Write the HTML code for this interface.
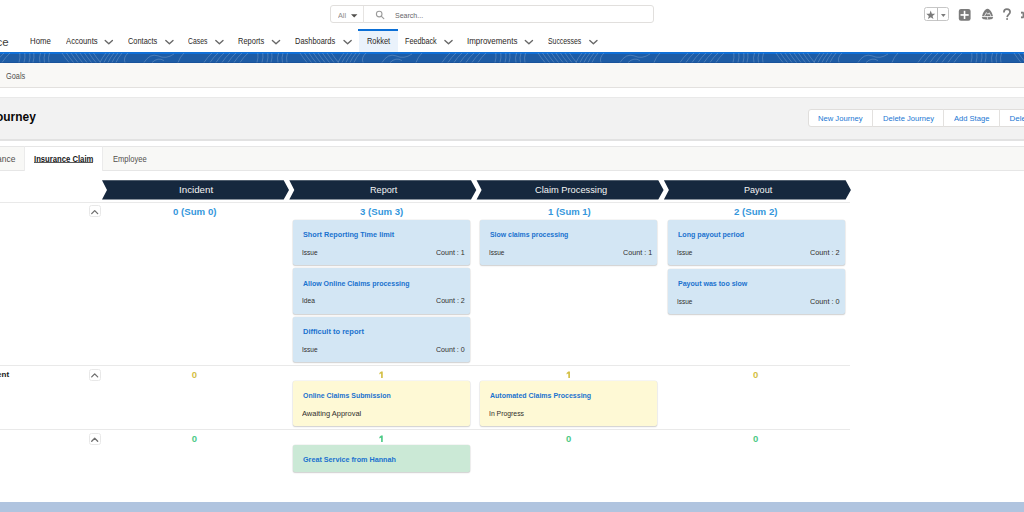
<!DOCTYPE html>
<html><head><meta charset="utf-8">
<style>
html,body{margin:0;padding:0;}
body{width:1024px;height:512px;overflow:hidden;position:relative;background:#fff;font-family:"Liberation Sans",sans-serif;}
.a{position:absolute;}
.t{position:absolute;transform-origin:0 0;}
.card{position:absolute;width:177px;border-radius:2px;box-shadow:0 0 0 0.6px rgba(0,0,0,0.07),0 1px 1.5px rgba(0,0,0,0.16);}
.upb{position:absolute;left:88.8px;width:11.8px;height:11.9px;border:1px solid #e8e8e8;border-radius:2.5px;background:#fff;box-sizing:border-box;}
.hl{position:absolute;left:0;width:850px;height:1px;background:#e9e9e9;}
</style></head>
<body>
<!-- search box -->
<div class="a" style="left:330.3px;top:4.7px;width:324.2px;height:18.8px;border:1px solid #e1dfdd;border-radius:3px;box-sizing:border-box;background:#fff"></div>
<div class="a" style="left:363px;top:5.5px;width:1px;height:17.4px;background:#e6e4e2"></div>
<svg class="a" style="left:0;top:0" width="1024" height="512" viewBox="0 0 1024 512">
  <!-- All dropdown triangle -->
  <polygon points="351,14.2 357.4,14.2 354.2,17.6" fill="#514f4d"/>
  <!-- search magnifier -->
  <circle cx="379.2" cy="14.1" r="2.8" fill="none" stroke="#9b9b9b" stroke-width="1.1"/>
  <line x1="381.2" y1="16.1" x2="383.8" y2="18.6" stroke="#9b9b9b" stroke-width="1.2" stroke-linecap="round"/>
  <!-- nav chevrons -->
  <g fill="none" stroke="#676767" stroke-width="1.35" stroke-linecap="round" stroke-linejoin="round">
    <polyline points="105.2,40.4 108.8,43.8 112.4,40.4"/>
    <polyline points="165.8,40.4 169.4,43.8 173.0,40.4"/>
    <polyline points="215.8,40.4 219.4,43.8 223.0,40.4"/>
    <polyline points="272.4,40.4 276.0,43.8 279.6,40.4"/>
    <polyline points="344.0,40.4 347.6,43.8 351.2,40.4"/>
    <polyline points="444.9,40.4 448.5,43.8 452.1,40.4"/>
    <polyline points="525.3,40.4 528.9,43.8 532.5,40.4"/>
    <polyline points="589.8,40.4 593.4,43.8 597.0,40.4"/>
  </g>
</svg>
<!-- right header icons -->
<div class="a" style="left:923.6px;top:7.3px;width:25.1px;height:14.2px;border:1px solid #c6c6c6;border-radius:2.5px;box-sizing:border-box;background:#fff"></div>
<div class="a" style="left:937.3px;top:8.2px;width:1.1px;height:12.4px;background:#bdbdbd"></div>
<svg class="a" style="left:0;top:0" width="1024" height="30" viewBox="0 0 1024 30">
  <polygon points="930.70,10.60 931.85,13.72 935.17,13.85 932.55,15.90 933.46,19.10 930.70,17.25 927.94,19.10 928.85,15.90 926.23,13.85 929.55,13.72" fill="#7b7b7b"/>
  <polygon points="941,14.1 945.7,14.1 943.35,17.1" fill="#7b7b7b"/>
  <rect x="958.8" y="8.9" width="11.8" height="11.8" rx="2.2" fill="#7b7b7b"/>
  <rect x="963.75" y="10.8" width="1.6" height="8.2" fill="#fff"/>
  <rect x="960.5" y="14.1" width="8.2" height="1.7" fill="#fff"/>
  <path d="M981.9,17.6 C981.9,14.5 984.6,8.7 987.5,8.7 C990.4,8.7 993.1,14.5 993.1,17.6 C993.1,19.2 990.5,19.7 987.5,19.7 C984.5,19.7 981.9,19.2 981.9,17.6 Z" fill="#7b7b7b"/>
  <line x1="981" y1="16.6" x2="994" y2="16.6" stroke="#fff" stroke-width="0.9"/>
  <path d="M984.6,15.9 L986.4,12.6 L987.8,14.3 L989.3,12.9 L990.8,15.9" fill="none" stroke="#fff" stroke-width="0.8"/>
  <line x1="987.2" y1="16.5" x2="987.8" y2="19.8" stroke="#fff" stroke-width="0.7"/>
  <path d="M1003.9,12.4 C1003.9,9.9 1005.5,9.1 1006.9,9.1 C1008.6,9.1 1010.1,10.2 1010.1,12.1 C1010.1,14.1 1007.3,14.6 1007.1,17.1" fill="none" stroke="#7b7b7b" stroke-width="1.7"/>
  <rect x="1006.2" y="18.2" width="1.8" height="1.6" fill="#7b7b7b"/>
  <g fill="#7b7b7b">
    <circle cx="1027.2" cy="15" r="4.6"/>
    <rect x="1021" y="11.7" width="2.4" height="1.9"/>
    <rect x="1021" y="16.4" width="2.4" height="1.9"/>
    <rect x="1022.8" y="12.6" width="2" height="4.8"/>
  </g>
  <circle cx="1027.2" cy="15" r="1.8" fill="#fff"/>
</svg>
<!-- Rokket active tab -->
<div class="a" style="left:358.5px;top:31.3px;width:39px;height:20.7px;background:#eaf2fb"></div>
<div class="a" style="left:358px;top:29.3px;width:39.6px;height:2px;background:#0b6fd6"></div>
<!-- blue banner -->
<div class="a" style="left:0;top:51.8px;width:1024px;height:11.4px;background:#1e5ca5"></div>
<div class="a" style="left:0;top:51.8px;width:1024px;height:1.8px;background:#0f6fd7"></div>
<div class="a" style="left:0;top:62.2px;width:1024px;height:1px;background:#1a539b"></div>
<svg class="a" style="left:0;top:53.3px" width="1024" height="9.5" viewBox="0 0 1024 10" preserveAspectRatio="none">
  <path d="M-198.0,10 Q-199.2,5 -197.5,0 M-193.5,10 Q-194.7,5 -193.0,0 M-189.0,10 Q-190.2,5 -188.5,0 M-176.0,0 Q-173.0,5 -169.0,10 M-171.5,0 Q-168.5,5 -164.5,10 M-167.0,0 Q-164.0,5 -160.0,10 M-162.5,0 Q-159.5,5 -155.5,10 M-158.0,0 Q-155.0,5 -151.0,10 M-153.5,0 Q-150.5,5 -146.5,10 M-149.0,0 Q-146.0,5 -142.0,10 M-144.5,0 Q-141.5,5 -137.5,10 M-132.0,0 Q-136.0,5 -138.0,10 M-128.0,0 Q-132.0,5 -134.0,10 M-124.0,0 Q-128.0,5 -130.0,10 M-120.0,0 Q-124.0,5 -126.0,10 M-116.0,0 Q-120.0,5 -122.0,10 M-110.0,0 Q-115.0,5 -113.0,10 M-94.0,10 Q-88.0,0 -80.0,3 Q-72.0,7 -64.0,1 M-86.0,10 Q-80.0,4 -74.0,8 M-60.0,10 Q-58.0,4 -54.0,0 M-26.0,0 Q-31.0,5 -34.0,10 M-20.0,0 Q-25.0,5 -28.0,10 M-14.0,0 Q-19.0,5 -22.0,10 M-8.0,0 Q-13.0,5 -16.0,10 M-2.0,0 Q-7.0,5 -10.0,10 M4.0,0 Q-1.0,5 -4.0,10 M10.0,0 Q5.0,5 2.0,10 M19.0,10 Q20.5,5 19.8,0 M24.0,10 Q25.5,5 24.8,0 M29.0,10 Q30.5,5 29.8,0 M33.0,10 Q34.5,5 33.8,0 M40.0,10 Q38.8,5 40.5,0 M44.5,10 Q43.3,5 45.0,0 M49.0,10 Q47.8,5 49.5,0 M62.0,0 Q65.0,5 69.0,10 M66.5,0 Q69.5,5 73.5,10 M71.0,0 Q74.0,5 78.0,10 M75.5,0 Q78.5,5 82.5,10 M80.0,0 Q83.0,5 87.0,10 M84.5,0 Q87.5,5 91.5,10 M89.0,0 Q92.0,5 96.0,10 M93.5,0 Q96.5,5 100.5,10 M106.0,0 Q102.0,5 100.0,10 M110.0,0 Q106.0,5 104.0,10 M114.0,0 Q110.0,5 108.0,10 M118.0,0 Q114.0,5 112.0,10 M122.0,0 Q118.0,5 116.0,10 M128.0,0 Q123.0,5 125.0,10 M144.0,10 Q150.0,0 158.0,3 Q166.0,7 174.0,1 M152.0,10 Q158.0,4 164.0,8 M178.0,10 Q180.0,4 184.0,0 M212.0,0 Q207.0,5 204.0,10 M218.0,0 Q213.0,5 210.0,10 M224.0,0 Q219.0,5 216.0,10 M230.0,0 Q225.0,5 222.0,10 M236.0,0 Q231.0,5 228.0,10 M242.0,0 Q237.0,5 234.0,10 M248.0,0 Q243.0,5 240.0,10 M257.0,10 Q258.5,5 257.8,0 M262.0,10 Q263.5,5 262.8,0 M267.0,10 Q268.5,5 267.8,0 M271.0,10 Q272.5,5 271.8,0 M278.0,10 Q276.8,5 278.5,0 M282.5,10 Q281.3,5 283.0,0 M287.0,10 Q285.8,5 287.5,0 M300.0,0 Q303.0,5 307.0,10 M304.5,0 Q307.5,5 311.5,10 M309.0,0 Q312.0,5 316.0,10 M313.5,0 Q316.5,5 320.5,10 M318.0,0 Q321.0,5 325.0,10 M322.5,0 Q325.5,5 329.5,10 M327.0,0 Q330.0,5 334.0,10 M331.5,0 Q334.5,5 338.5,10 M344.0,0 Q340.0,5 338.0,10 M348.0,0 Q344.0,5 342.0,10 M352.0,0 Q348.0,5 346.0,10 M356.0,0 Q352.0,5 350.0,10 M360.0,0 Q356.0,5 354.0,10 M366.0,0 Q361.0,5 363.0,10 M382.0,10 Q388.0,0 396.0,3 Q404.0,7 412.0,1 M390.0,10 Q396.0,4 402.0,8 M416.0,10 Q418.0,4 422.0,0 M450.0,0 Q445.0,5 442.0,10 M456.0,0 Q451.0,5 448.0,10 M462.0,0 Q457.0,5 454.0,10 M468.0,0 Q463.0,5 460.0,10 M474.0,0 Q469.0,5 466.0,10 M480.0,0 Q475.0,5 472.0,10 M486.0,0 Q481.0,5 478.0,10 M495.0,10 Q496.5,5 495.8,0 M500.0,10 Q501.5,5 500.8,0 M505.0,10 Q506.5,5 505.8,0 M509.0,10 Q510.5,5 509.8,0 M516.0,10 Q514.8,5 516.5,0 M520.5,10 Q519.3,5 521.0,0 M525.0,10 Q523.8,5 525.5,0 M538.0,0 Q541.0,5 545.0,10 M542.5,0 Q545.5,5 549.5,10 M547.0,0 Q550.0,5 554.0,10 M551.5,0 Q554.5,5 558.5,10 M556.0,0 Q559.0,5 563.0,10 M560.5,0 Q563.5,5 567.5,10 M565.0,0 Q568.0,5 572.0,10 M569.5,0 Q572.5,5 576.5,10 M582.0,0 Q578.0,5 576.0,10 M586.0,0 Q582.0,5 580.0,10 M590.0,0 Q586.0,5 584.0,10 M594.0,0 Q590.0,5 588.0,10 M598.0,0 Q594.0,5 592.0,10 M604.0,0 Q599.0,5 601.0,10 M620.0,10 Q626.0,0 634.0,3 Q642.0,7 650.0,1 M628.0,10 Q634.0,4 640.0,8 M654.0,10 Q656.0,4 660.0,0 M688.0,0 Q683.0,5 680.0,10 M694.0,0 Q689.0,5 686.0,10 M700.0,0 Q695.0,5 692.0,10 M706.0,0 Q701.0,5 698.0,10 M712.0,0 Q707.0,5 704.0,10 M718.0,0 Q713.0,5 710.0,10 M724.0,0 Q719.0,5 716.0,10 M733.0,10 Q734.5,5 733.8,0 M738.0,10 Q739.5,5 738.8,0 M743.0,10 Q744.5,5 743.8,0 M747.0,10 Q748.5,5 747.8,0 M754.0,10 Q752.8,5 754.5,0 M758.5,10 Q757.3,5 759.0,0 M763.0,10 Q761.8,5 763.5,0 M776.0,0 Q779.0,5 783.0,10 M780.5,0 Q783.5,5 787.5,10 M785.0,0 Q788.0,5 792.0,10 M789.5,0 Q792.5,5 796.5,10 M794.0,0 Q797.0,5 801.0,10 M798.5,0 Q801.5,5 805.5,10 M803.0,0 Q806.0,5 810.0,10 M807.5,0 Q810.5,5 814.5,10 M820.0,0 Q816.0,5 814.0,10 M824.0,0 Q820.0,5 818.0,10 M828.0,0 Q824.0,5 822.0,10 M832.0,0 Q828.0,5 826.0,10 M836.0,0 Q832.0,5 830.0,10 M842.0,0 Q837.0,5 839.0,10 M858.0,10 Q864.0,0 872.0,3 Q880.0,7 888.0,1 M866.0,10 Q872.0,4 878.0,8 M892.0,10 Q894.0,4 898.0,0 M926.0,0 Q921.0,5 918.0,10 M932.0,0 Q927.0,5 924.0,10 M938.0,0 Q933.0,5 930.0,10 M944.0,0 Q939.0,5 936.0,10 M950.0,0 Q945.0,5 942.0,10 M956.0,0 Q951.0,5 948.0,10 M962.0,0 Q957.0,5 954.0,10 M971.0,10 Q972.5,5 971.8,0 M976.0,10 Q977.5,5 976.8,0 M981.0,10 Q982.5,5 981.8,0 M985.0,10 Q986.5,5 985.8,0 M992.0,10 Q990.8,5 992.5,0 M996.5,10 Q995.3,5 997.0,0 M1001.0,10 Q999.8,5 1001.5,0 M1014.0,0 Q1017.0,5 1021.0,10 M1018.5,0 Q1021.5,5 1025.5,10 M1023.0,0 Q1026.0,5 1030.0,10 M1027.5,0 Q1030.5,5 1034.5,10 M1032.0,0 Q1035.0,5 1039.0,10 M1036.5,0 Q1039.5,5 1043.5,10 M1041.0,0 Q1044.0,5 1048.0,10 M1045.5,0 Q1048.5,5 1052.5,10 M1058.0,0 Q1054.0,5 1052.0,10 M1062.0,0 Q1058.0,5 1056.0,10 M1066.0,0 Q1062.0,5 1060.0,10 M1070.0,0 Q1066.0,5 1064.0,10 M1074.0,0 Q1070.0,5 1068.0,10 M1080.0,0 Q1075.0,5 1077.0,10 M1096.0,10 Q1102.0,0 1110.0,3 Q1118.0,7 1126.0,1 M1104.0,10 Q1110.0,4 1116.0,8 M1130.0,10 Q1132.0,4 1136.0,0 M1164.0,0 Q1159.0,5 1156.0,10 M1170.0,0 Q1165.0,5 1162.0,10 M1176.0,0 Q1171.0,5 1168.0,10 M1182.0,0 Q1177.0,5 1174.0,10 M1188.0,0 Q1183.0,5 1180.0,10 M1194.0,0 Q1189.0,5 1186.0,10 M1200.0,0 Q1195.0,5 1192.0,10 M1209.0,10 Q1210.5,5 1209.8,0 M1214.0,10 Q1215.5,5 1214.8,0 M1219.0,10 Q1220.5,5 1219.8,0 M1223.0,10 Q1224.5,5 1223.8,0 M1230.0,10 Q1228.8,5 1230.5,0 M1234.5,10 Q1233.3,5 1235.0,0 M1239.0,10 Q1237.8,5 1239.5,0 M1252.0,0 Q1255.0,5 1259.0,10 M1256.5,0 Q1259.5,5 1263.5,10 M1261.0,0 Q1264.0,5 1268.0,10 M1265.5,0 Q1268.5,5 1272.5,10 M1270.0,0 Q1273.0,5 1277.0,10 M1274.5,0 Q1277.5,5 1281.5,10 M1279.0,0 Q1282.0,5 1286.0,10 M1283.5,0 Q1286.5,5 1290.5,10 M1296.0,0 Q1292.0,5 1290.0,10 M1300.0,0 Q1296.0,5 1294.0,10 M1304.0,0 Q1300.0,5 1298.0,10 M1308.0,0 Q1304.0,5 1302.0,10 M1312.0,0 Q1308.0,5 1306.0,10 M1318.0,0 Q1313.0,5 1315.0,10 M1334.0,10 Q1340.0,0 1348.0,3 Q1356.0,7 1364.0,1 M1342.0,10 Q1348.0,4 1354.0,8 M1368.0,10 Q1370.0,4 1374.0,0 M1402.0,0 Q1397.0,5 1394.0,10 M1408.0,0 Q1403.0,5 1400.0,10 M1414.0,0 Q1409.0,5 1406.0,10 M1420.0,0 Q1415.0,5 1412.0,10 M1426.0,0 Q1421.0,5 1418.0,10 M1432.0,0 Q1427.0,5 1424.0,10 M1438.0,0 Q1433.0,5 1430.0,10 M1447.0,10 Q1448.5,5 1447.8,0 M1452.0,10 Q1453.5,5 1452.8,0 M1457.0,10 Q1458.5,5 1457.8,0 M1461.0,10 Q1462.5,5 1461.8,0" fill="none" stroke="rgba(255,255,255,0.24)" stroke-width="0.85"/>
</svg>
<!-- sub bar -->
<div class="a" style="left:0;top:63.2px;width:1024px;height:23.8px;background:#f9f8f6"></div>
<div class="a" style="left:0;top:87px;width:1024px;height:1px;background:#e3e1df"></div>
<!-- header gray box -->
<div class="a" style="left:0;top:97.6px;width:1024px;height:42.4px;background:#f2f2f2"></div>
<div class="a" style="left:0;top:97.2px;width:1024px;height:0.8px;background:#e9e9e9"></div>
<div class="a" style="left:0;top:139.3px;width:1024px;height:1.5px;background:#e2e2e2"></div>
<!-- buttons -->
<div class="a" style="left:808px;top:108.7px;width:230px;height:18.3px;border:1px solid #e0dedc;border-radius:3px;box-sizing:border-box;background:#fff"></div>
<div class="a" style="left:872px;top:109px;width:1px;height:17.6px;background:#e3e1df"></div>
<div class="a" style="left:943px;top:109px;width:1px;height:17.6px;background:#e3e1df"></div>
<div class="a" style="left:999px;top:109px;width:1px;height:17.6px;background:#e3e1df"></div>
<!-- tabs -->
<div class="a" style="left:0;top:145.5px;width:1024px;height:25px;background:#f8f8f6;border-top:1px solid #e6e6e6;border-bottom:1px solid #e6e6e6;box-sizing:border-box"></div>
<div class="a" style="left:24px;top:145.5px;width:79px;height:25px;background:#fff;border-left:1px solid #ebebeb;border-right:1px solid #ebebeb;border-top:1px solid #e6e6e6;box-sizing:border-box"></div>
<div class="a" style="left:34.4px;top:162.3px;width:58.9px;height:0.8px;background:#5a5a5a"></div>
<!-- chevrons -->
<svg class="a" style="left:0;top:0" width="1024" height="512" viewBox="0 0 1024 512">
<polygon points="102,180.2 283.7,180.2 289,190 283.7,199.5 102,199.5 107,190" fill="#16283e"/>
<polygon points="289.3,180.2 471.0,180.2 476.3,190 471.0,199.5 289.3,199.5 294.3,190" fill="#16283e"/>
<polygon points="476.6,180.2 658.3,180.2 663.6,190 658.3,199.5 476.6,199.5 481.6,190" fill="#16283e"/>
<polygon points="663.9,180.2 845.6,180.2 850.9,190 845.6,199.5 663.9,199.5 668.9,190" fill="#16283e"/>
</svg>
<!-- row lines -->
<div class="hl" style="top:202px"></div>
<div class="hl" style="top:364.5px"></div>
<div class="hl" style="top:429px"></div>
<!-- up buttons -->
<div class="upb" style="top:205.4px"></div>
<div class="upb" style="top:368.7px"></div>
<div class="upb" style="top:433px"></div>
<svg class="a" style="left:0;top:0" width="120" height="512" viewBox="0 0 120 512">
  <g fill="none" stroke="#6e6e6e" stroke-width="1.3" stroke-linecap="round" stroke-linejoin="round">
    <polyline points="91.7,213.6 94.7,210.6 97.7,213.6"/>
    <polyline points="91.7,376.9 94.7,373.9 97.7,376.9"/>
    <polyline points="91.7,441.2 94.7,438.2 97.7,441.2"/>
  </g>
</svg>
<!-- cards -->
<div class="card" style="left:292.8px;top:219.8px;height:45.2px;background:#d3e6f4"></div>
<div class="card" style="left:292.8px;top:268.4px;height:45.2px;background:#d3e6f4"></div>
<div class="card" style="left:292.8px;top:317.0px;height:45.2px;background:#d3e6f4"></div>
<div class="card" style="left:480.1px;top:219.8px;height:45.2px;background:#d3e6f4"></div>
<div class="card" style="left:667.5px;top:219.8px;height:45.2px;background:#d3e6f4"></div>
<div class="card" style="left:667.5px;top:268.6px;height:45.2px;background:#d3e6f4"></div>
<div class="card" style="left:292.8px;top:380.5px;height:45.5px;background:#fef9d5"></div>
<div class="card" style="left:480.1px;top:380.5px;height:45.5px;background:#fef9d5"></div>
<div class="card" style="left:292.8px;top:444.6px;height:27.0px;background:#cbe9d6"></div>
<!-- bottom bar -->
<div class="a" style="left:0;top:502px;width:1024px;height:10px;background:#b0c4df"></div>
<!-- texts -->
<span class="t" style="left:-3.60px;top:37px;color:#3e3e3c;font-family:'Liberation Sans', sans-serif;font-size:11.5px;line-height:11.5px;font-weight:400;white-space:nowrap;transform:scaleX(1.0000)">ce</span>
<span class="t" style="left:30.00px;top:37px;color:#2b2826;font-family:'Liberation Sans', sans-serif;font-size:9px;line-height:9px;font-weight:400;white-space:nowrap;transform:scaleX(0.8667)">Home</span>
<span class="t" style="left:65.60px;top:37px;color:#2b2826;font-family:'Liberation Sans', sans-serif;font-size:9px;line-height:9px;font-weight:400;white-space:nowrap;transform:scaleX(0.8541)">Accounts</span>
<span class="t" style="left:127.80px;top:37px;color:#2b2826;font-family:'Liberation Sans', sans-serif;font-size:9px;line-height:9px;font-weight:400;white-space:nowrap;transform:scaleX(0.8250)">Contacts</span>
<span class="t" style="left:187.80px;top:37px;color:#2b2826;font-family:'Liberation Sans', sans-serif;font-size:9px;line-height:9px;font-weight:400;white-space:nowrap;transform:scaleX(0.7577)">Cases</span>
<span class="t" style="left:237.80px;top:37px;color:#2b2826;font-family:'Liberation Sans', sans-serif;font-size:9px;line-height:9px;font-weight:400;white-space:nowrap;transform:scaleX(0.8312)">Reports</span>
<span class="t" style="left:295.00px;top:37px;color:#2b2826;font-family:'Liberation Sans', sans-serif;font-size:9px;line-height:9px;font-weight:400;white-space:nowrap;transform:scaleX(0.8286)">Dashboards</span>
<span class="t" style="left:366.60px;top:37px;color:#2b2826;font-family:'Liberation Sans', sans-serif;font-size:9px;line-height:9px;font-weight:400;white-space:nowrap;transform:scaleX(0.8250)">Rokket</span>
<span class="t" style="left:404.80px;top:37px;color:#2b2826;font-family:'Liberation Sans', sans-serif;font-size:9px;line-height:9px;font-weight:400;white-space:nowrap;transform:scaleX(0.8025)">Feedback</span>
<span class="t" style="left:466.92px;top:37px;color:#2b2826;font-family:'Liberation Sans', sans-serif;font-size:9px;line-height:9px;font-weight:400;white-space:nowrap;transform:scaleX(0.8839)">Improvements</span>
<span class="t" style="left:547.80px;top:37px;color:#2b2826;font-family:'Liberation Sans', sans-serif;font-size:9px;line-height:9px;font-weight:400;white-space:nowrap;transform:scaleX(0.7636)">Successes</span>
<span class="t" style="left:337.60px;top:12px;color:#8d8b89;font-family:'Liberation Sans', sans-serif;font-size:8px;line-height:8px;font-weight:400;white-space:nowrap;transform:scaleX(0.9111)">All</span>
<span class="t" style="left:395.20px;top:12px;color:#67656a;font-family:'Liberation Sans', sans-serif;font-size:8px;line-height:8px;font-weight:400;white-space:nowrap;transform:scaleX(0.8781)">Search...</span>
<span class="t" style="left:5.90px;top:72px;color:#514f4d;font-family:'Liberation Sans', sans-serif;font-size:9px;line-height:9px;font-weight:400;white-space:nowrap;transform:scaleX(0.8167)">Goals</span>
<span class="t" style="left:-4.00px;top:110px;color:#080707;font-family:'Liberation Sans', sans-serif;font-size:13px;line-height:13px;font-weight:700;white-space:nowrap;transform:scaleX(0.9186)">ourney</span>
<span class="t" style="left:818.00px;top:115px;color:#2277d3;font-family:'Liberation Sans', sans-serif;font-size:8px;line-height:8px;font-weight:400;white-space:nowrap;transform:scaleX(0.9532)">New Journey</span>
<span class="t" style="left:882.70px;top:115px;color:#2277d3;font-family:'Liberation Sans', sans-serif;font-size:8px;line-height:8px;font-weight:400;white-space:nowrap;transform:scaleX(0.9481)">Delete Journey</span>
<span class="t" style="left:954.20px;top:115px;color:#2277d3;font-family:'Liberation Sans', sans-serif;font-size:8px;line-height:8px;font-weight:400;white-space:nowrap;transform:scaleX(0.9459)">Add Stage</span>
<span class="t" style="left:1009.60px;top:115px;color:#2277d3;font-family:'Liberation Sans', sans-serif;font-size:8px;line-height:8px;font-weight:400;white-space:nowrap;transform:scaleX(1.0000)">Delete Stage</span>
<span class="t" style="left:-3.00px;top:155px;color:#514f4d;font-family:'Liberation Sans', sans-serif;font-size:8.5px;line-height:8.5px;font-weight:400;white-space:nowrap;transform:scaleX(1.0000)">ance</span>
<span class="t" style="left:34.40px;top:155px;color:#181818;font-family:'Liberation Sans', sans-serif;font-size:9px;line-height:9px;font-weight:700;white-space:nowrap;transform:scaleX(0.8536)">Insurance Claim</span>
<span class="t" style="left:113.10px;top:155px;color:#514f4d;font-family:'Liberation Sans', sans-serif;font-size:8.5px;line-height:8.5px;font-weight:400;white-space:nowrap;transform:scaleX(0.8921)">Employee</span>
<span class="t" style="left:178.57px;top:185px;color:#f4f4f4;font-family:'Liberation Sans', sans-serif;font-size:9.5px;line-height:9.5px;font-weight:400;white-space:nowrap;transform:scaleX(1.0273)">Incident</span>
<span class="t" style="left:369.80px;top:185px;color:#f4f4f4;font-family:'Liberation Sans', sans-serif;font-size:9.5px;line-height:9.5px;font-weight:400;white-space:nowrap;transform:scaleX(0.9586)">Report</span>
<span class="t" style="left:534.60px;top:185px;color:#f4f4f4;font-family:'Liberation Sans', sans-serif;font-size:9.5px;line-height:9.5px;font-weight:400;white-space:nowrap;transform:scaleX(0.9770)">Claim Processing</span>
<span class="t" style="left:743.70px;top:185px;color:#f4f4f4;font-family:'Liberation Sans', sans-serif;font-size:9.5px;line-height:9.5px;font-weight:400;white-space:nowrap;transform:scaleX(0.9533)">Payout</span>
<span class="t" style="left:172.70px;top:208px;color:#3597dc;font-family:'Liberation Sans', sans-serif;font-size:8.5px;line-height:8.5px;font-weight:700;white-space:nowrap;transform:scaleX(1.1368)">0 (Sum 0)</span>
<span class="t" style="left:360.00px;top:208px;color:#3597dc;font-family:'Liberation Sans', sans-serif;font-size:8.5px;line-height:8.5px;font-weight:700;white-space:nowrap;transform:scaleX(1.1316)">3 (Sum 3)</span>
<span class="t" style="left:547.80px;top:208px;color:#3597dc;font-family:'Liberation Sans', sans-serif;font-size:8.5px;line-height:8.5px;font-weight:700;white-space:nowrap;transform:scaleX(1.1184)">1 (Sum 1)</span>
<span class="t" style="left:734.20px;top:208px;color:#3597dc;font-family:'Liberation Sans', sans-serif;font-size:8.5px;line-height:8.5px;font-weight:700;white-space:nowrap;transform:scaleX(1.1368)">2 (Sum 2)</span>
<span class="t" style="left:-2.90px;top:371px;color:#181818;font-family:'Liberation Sans', sans-serif;font-size:8px;line-height:8px;font-weight:700;white-space:nowrap;transform:scaleX(1.0000)">ent</span>
<span class="t" style="left:191.70px;top:370px;color:#d3bf44;font-family:'Liberation Sans', sans-serif;font-size:9.5px;line-height:9.5px;font-weight:700;white-space:nowrap;transform:scaleX(1.0000)">0</span>
<span class="t" style="left:753.10px;top:370px;color:#d3bf44;font-family:'Liberation Sans', sans-serif;font-size:9.5px;line-height:9.5px;font-weight:700;white-space:nowrap;transform:scaleX(1.0000)">0</span>
<span class="t" style="left:191.80px;top:434px;color:#4cca86;font-family:'Liberation Sans', sans-serif;font-size:9.5px;line-height:9.5px;font-weight:700;white-space:nowrap;transform:scaleX(1.0000)">0</span>
<span class="t" style="left:566.00px;top:434px;color:#4cca86;font-family:'Liberation Sans', sans-serif;font-size:9.5px;line-height:9.5px;font-weight:700;white-space:nowrap;transform:scaleX(1.0000)">0</span>
<span class="t" style="left:753.10px;top:434px;color:#4cca86;font-family:'Liberation Sans', sans-serif;font-size:9.5px;line-height:9.5px;font-weight:700;white-space:nowrap;transform:scaleX(1.0000)">0</span>
<span class="t" style="left:302.80px;top:231px;color:#1a72cf;font-family:'Liberation Sans', sans-serif;font-size:8px;line-height:8px;font-weight:700;white-space:nowrap;transform:scaleX(0.9079)">Short Reporting Time limit</span>
<span class="t" style="left:302.10px;top:249px;color:#302e2c;font-family:'Liberation Sans', sans-serif;font-size:7px;line-height:7px;font-weight:400;white-space:nowrap;transform:scaleX(0.9353)">Issue</span>
<span class="t" style="left:435.80px;top:249px;color:#302e2c;font-family:'Liberation Sans', sans-serif;font-size:7px;line-height:7px;font-weight:400;white-space:nowrap;transform:scaleX(1.0107)">Count : 1</span>
<span class="t" style="left:302.80px;top:280px;color:#1a72cf;font-family:'Liberation Sans', sans-serif;font-size:8px;line-height:8px;font-weight:700;white-space:nowrap;transform:scaleX(0.8746)">Allow Online Claims processing</span>
<span class="t" style="left:302.10px;top:297px;color:#302e2c;font-family:'Liberation Sans', sans-serif;font-size:7px;line-height:7px;font-weight:400;white-space:nowrap;transform:scaleX(0.9500)">Idea</span>
<span class="t" style="left:435.70px;top:297px;color:#302e2c;font-family:'Liberation Sans', sans-serif;font-size:7px;line-height:7px;font-weight:400;white-space:nowrap;transform:scaleX(1.0143)">Count : 2</span>
<span class="t" style="left:302.80px;top:328px;color:#1a72cf;font-family:'Liberation Sans', sans-serif;font-size:8px;line-height:8px;font-weight:700;white-space:nowrap;transform:scaleX(0.9385)">Difficult to report</span>
<span class="t" style="left:302.10px;top:346px;color:#302e2c;font-family:'Liberation Sans', sans-serif;font-size:7px;line-height:7px;font-weight:400;white-space:nowrap;transform:scaleX(0.9353)">Issue</span>
<span class="t" style="left:435.80px;top:346px;color:#302e2c;font-family:'Liberation Sans', sans-serif;font-size:7px;line-height:7px;font-weight:400;white-space:nowrap;transform:scaleX(1.0107)">Count : 0</span>
<span class="t" style="left:490.10px;top:231px;color:#1a72cf;font-family:'Liberation Sans', sans-serif;font-size:8px;line-height:8px;font-weight:700;white-space:nowrap;transform:scaleX(0.8637)">Slow claims processing</span>
<span class="t" style="left:489.40px;top:249px;color:#302e2c;font-family:'Liberation Sans', sans-serif;font-size:7px;line-height:7px;font-weight:400;white-space:nowrap;transform:scaleX(0.9235)">Issue</span>
<span class="t" style="left:622.70px;top:249px;color:#302e2c;font-family:'Liberation Sans', sans-serif;font-size:7px;line-height:7px;font-weight:400;white-space:nowrap;transform:scaleX(1.0250)">Count : 1</span>
<span class="t" style="left:677.50px;top:231px;color:#1a72cf;font-family:'Liberation Sans', sans-serif;font-size:8px;line-height:8px;font-weight:700;white-space:nowrap;transform:scaleX(0.8867)">Long payout period</span>
<span class="t" style="left:676.80px;top:249px;color:#302e2c;font-family:'Liberation Sans', sans-serif;font-size:7px;line-height:7px;font-weight:400;white-space:nowrap;transform:scaleX(0.9235)">Issue</span>
<span class="t" style="left:809.70px;top:249px;color:#302e2c;font-family:'Liberation Sans', sans-serif;font-size:7px;line-height:7px;font-weight:400;white-space:nowrap;transform:scaleX(1.0393)">Count : 2</span>
<span class="t" style="left:677.50px;top:280px;color:#1a72cf;font-family:'Liberation Sans', sans-serif;font-size:8px;line-height:8px;font-weight:700;white-space:nowrap;transform:scaleX(0.8810)">Payout was too slow</span>
<span class="t" style="left:676.80px;top:298px;color:#302e2c;font-family:'Liberation Sans', sans-serif;font-size:7px;line-height:7px;font-weight:400;white-space:nowrap;transform:scaleX(0.9235)">Issue</span>
<span class="t" style="left:809.70px;top:298px;color:#302e2c;font-family:'Liberation Sans', sans-serif;font-size:7px;line-height:7px;font-weight:400;white-space:nowrap;transform:scaleX(1.0393)">Count : 0</span>
<span class="t" style="left:302.80px;top:392px;color:#1a72cf;font-family:'Liberation Sans', sans-serif;font-size:8px;line-height:8px;font-weight:700;white-space:nowrap;transform:scaleX(0.8683)">Online Claims Submission</span>
<span class="t" style="left:302.10px;top:410px;color:#302e2c;font-family:'Liberation Sans', sans-serif;font-size:7px;line-height:7px;font-weight:400;white-space:nowrap;transform:scaleX(1.0673)">Awaiting Approval</span>
<span class="t" style="left:490.10px;top:392px;color:#1a72cf;font-family:'Liberation Sans', sans-serif;font-size:8px;line-height:8px;font-weight:700;white-space:nowrap;transform:scaleX(0.8750)">Automated Claims Processing</span>
<span class="t" style="left:489.40px;top:410px;color:#302e2c;font-family:'Liberation Sans', sans-serif;font-size:7px;line-height:7px;font-weight:400;white-space:nowrap;transform:scaleX(0.9778)">In Progress</span>
<span class="t" style="left:302.80px;top:456px;color:#1a72cf;font-family:'Liberation Sans', sans-serif;font-size:8px;line-height:8px;font-weight:700;white-space:nowrap;transform:scaleX(0.9000)">Great Service from Hannah</span>
<svg class="a" style="left:0;top:0" width="1024" height="512" viewBox="0 0 1024 512"><path d="M381.10,371.40 L382.75,371.40 L382.75,377.90 L381.10,377.90 Z M381.10,371.40 L379.40,372.90 L379.40,374.50 L381.10,373.30 Z" fill="#d3bf44"/><path d="M568.30,371.40 L569.95,371.40 L569.95,377.90 L568.30,377.90 Z M568.30,371.40 L566.60,372.90 L566.60,374.50 L568.30,373.30 Z" fill="#d3bf44"/><path d="M381.10,435.50 L382.75,435.50 L382.75,442.00 L381.10,442.00 Z M381.10,435.50 L379.40,437.00 L379.40,438.60 L381.10,437.40 Z" fill="#4cca86"/></svg>
</body></html>
